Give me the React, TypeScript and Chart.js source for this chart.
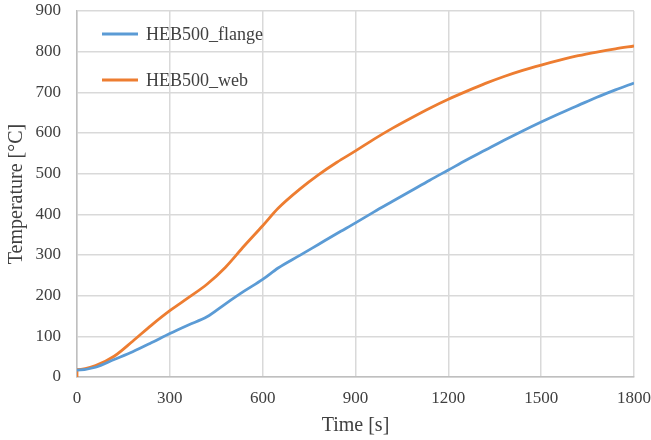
import React, { useEffect, useRef } from "react";
import { Chart, registerables } from "chart.js";

Chart.register(...registerables);

const timeS = [0, 0, 60, 120, 180, 240, 300, 360, 420, 480, 540, 600, 650, 720, 780, 840, 900, 960, 1020, 1080, 1140, 1200, 1260, 1320, 1380, 1440, 1500, 1560, 1620, 1680, 1740, 1800];
const flangeTemp = [17, 17, 24, 43, 62, 84, 107, 128, 148, 180, 211, 240, 268, 299, 326, 353, 379, 406, 432, 458, 484, 509, 534, 558, 582, 605, 627, 648, 668, 688, 706, 723];
const webTemp = [0, 18, 28, 51, 88, 127, 163, 195, 228, 270, 322, 372, 415, 462, 497, 528, 556, 585, 612, 637, 661, 683, 703, 722, 739, 754, 767, 779, 790, 799, 807, 814];
const seriesNames = ["HEB500_flange", "HEB500_web"];
const seriesColors = ["#5B9BD5", "#ED7D31"];
const xTitle = "Time [s]";
const yTitle = "Temperature [°C]";

const FONT = "'Liberation Serif', 'Times New Roman', serif";
const TEXT = "#404040";

const legendPlugin = {
  id: "insideLegend",
  afterDatasetsDraw(chart: any) {
    const ctx = chart.ctx;
    const area = chart.chartArea;
    ctx.save();
    chart.data.datasets.forEach((ds: any, i: number) => {
      const y = area.top + 23 + i * 46;
      const x0 = area.left + 25;
      ctx.strokeStyle = ds.borderColor;
      ctx.lineWidth = 3;
      ctx.beginPath();
      ctx.moveTo(x0, y);
      ctx.lineTo(x0 + 36, y);
      ctx.stroke();
      ctx.fillStyle = TEXT;
      ctx.font = `18px ${FONT}`;
      ctx.textBaseline = "middle";
      ctx.textAlign = "left";
      ctx.fillText(ds.label, x0 + 44, y + 1);
    });
    ctx.restore();
  },
};

export default function App() {
  const ref = useRef<HTMLCanvasElement>(null);
  useEffect(() => {
    if (!ref.current) return;
    const mk = (vals: number[]) => timeS.map((t, i) => ({ x: t, y: vals[i] }));
    const chart = new Chart(ref.current, {
      type: "line",
      data: {
        datasets: [
          { label: seriesNames[0], data: mk(flangeTemp), borderColor: seriesColors[0], backgroundColor: seriesColors[0], borderWidth: 2.8, pointRadius: 0, cubicInterpolationMode: "monotone" },
          { label: seriesNames[1], data: mk(webTemp), borderColor: seriesColors[1], backgroundColor: seriesColors[1], borderWidth: 2.8, pointRadius: 0, cubicInterpolationMode: "monotone" },
        ],
      },
      options: {
        animation: false,
        responsive: true,
        maintainAspectRatio: false,
        layout: { padding: { left: 0, right: 17, top: 11, bottom: 0 } },
        plugins: { legend: { display: false }, tooltip: { enabled: false } },
        scales: {
          x: {
            type: "linear",
            min: 0,
            max: 1800,
            ticks: { stepSize: 300, color: TEXT, font: { family: FONT, size: 17 }, padding: 0, maxRotation: 0, callback: (v: any) => String(v) },
            grid: { color: "#D9D9D9", lineWidth: 1.5, drawTicks: true, tickLength: 11, tickColor: "rgba(0,0,0,0)" },
            border: { color: "#BFBFBF", width: 1.5 },
            title: { display: true, text: xTitle, color: TEXT, font: { family: FONT, size: 20 }, padding: { top: 2, bottom: 2 } },
            afterFit: (s: any) => { s.height = 63; },
          },
          y: {
            min: 0,
            max: 900,
            ticks: { stepSize: 100, color: TEXT, font: { family: FONT, size: 17 }, padding: 0, callback: (v: any) => String(v) },
            grid: { color: "#D9D9D9", lineWidth: 1.5, drawTicks: true, tickLength: 16, tickColor: "rgba(0,0,0,0)" },
            border: { color: "#BFBFBF", width: 1.5 },
            title: { display: true, text: yTitle, color: TEXT, font: { family: FONT, size: 20 }, padding: { top: 5, bottom: 5 } },
            afterFit: (s: any) => { s.width = 77; },
          },
        },
      },
      plugins: [legendPlugin],
    });
    return () => chart.destroy();
  }, []);
  return (
    <div style={{ position: "absolute", left: 0, top: 0, width: 651, height: 440, background: "#fff" }}>
      <canvas ref={ref} />
    </div>
  );
}
